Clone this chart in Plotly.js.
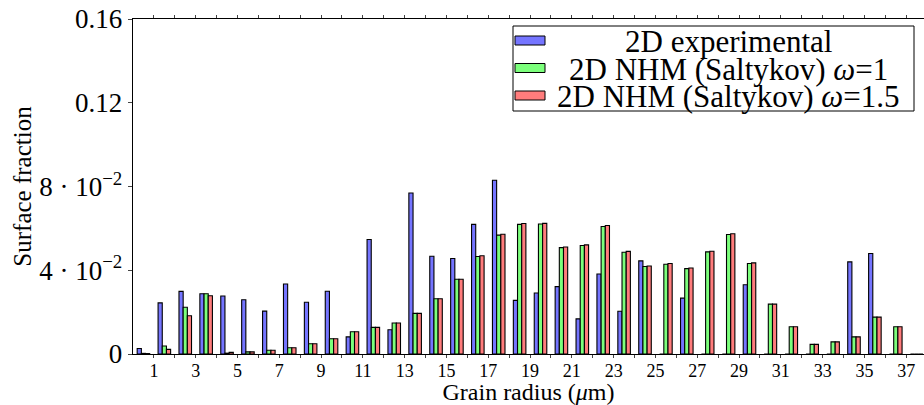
<!DOCTYPE html>
<html>
<head>
<meta charset="utf-8">
<script src="https://cdn.plot.ly/plotly-3.0.1.min.js"></script>
<style>html,body{margin:0;padding:0;background:#fff;}#chart{width:924px;height:405px;}</style>
</head>
<body>
<div id="chart"></div>
<script>
// ---- data ----
const radius = [0,1,2,3,4,5,6,7,8,9,10,11,12,13,14,15,16,17,18,19,20,21,22,23,24,25,26,27,28,29,30,31,32,33,34,35,36,37];
const experimental = [0.0026,0.0244,0.0299,0.0288,0.0277,0.0259,0.0205,0.0334,0.0247,0.0300,0.0082,0.0547,0.0116,0.0769,0.0467,0.0456,0.0619,0.0830,0.0256,0.0291,0.0322,0.0168,0.0382,0.0204,0.0445,0,0.0267,0,0,0.0331,0,0,0,0,0.0440,0.0480,0,0];
const nhmOmega1 = [0.0003,0.0038,0.0223,0.0288,0.0004,0.0010,0.0018,0.0030,0.0049,0.0073,0.0106,0.0127,0.0148,0.0194,0.0264,0.0357,0.0466,0.0568,0.0619,0.0621,0.0508,0.0518,0.0609,0.0486,0.0418,0.0429,0.0408,0.0488,0.0571,0.0432,0.0238,0.0130,0.0046,0.0058,0.0082,0.0176,0.0130,0];
const nhmOmega15 = [0.0002,0.0022,0.0183,0.0278,0.0008,0.0010,0.0018,0.0030,0.0049,0.0073,0.0106,0.0127,0.0148,0.0194,0.0264,0.0357,0.0469,0.0572,0.0623,0.0624,0.0511,0.0521,0.0614,0.0490,0.0420,0.0432,0.0411,0.0491,0.0574,0.0435,0.0238,0.0130,0.0046,0.0058,0.0082,0.0176,0.0130,0];
const seriesNames = ['2D experimental', '2D NHM (Saltykov) <i>ω</i>=1', '2D NHM (Saltykov) <i>ω</i>=1.5'];
const xTickLabels = ['1','3','5','7','9','11','13','15','17','19','21','23','25','27','29','31','33','35','37'];
const yTickValues = [0, 0.04, 0.08, 0.12, 0.16];
const yTickLabels = ['0', '4 · 10<sup>−2</sup>', '8 · 10<sup>−2</sup>', '0.12', '0.16'];

// ---- styles ----
const colors = ['#7575ff', '#7cff7c', '#ff7c7c'];
const FONT = 'Liberation Serif, Times New Roman, serif';
const W = 924, H = 405;
const M = {l: 133, r: 0, t: 19, b: 51};
const pw = W - M.l - M.r, ph = H - M.t - M.b;
const px2x = p => (p - M.l) / pw;
const px2y = p => (H - M.b - p) / ph;

const seriesData = [experimental, nhmOmega1, nhmOmega15];
const traces = seriesData.map((vals, i) => ({
  type: 'bar',
  x: radius,
  y: vals,
  name: seriesNames[i],
  width: 0.2,
  offset: 0.2 + 0.2 * i,
  marker: {color: colors[i], line: {color: '#000', width: 1.1}},
  showlegend: false,
  hoverinfo: 'skip'
}));

const xTickVals = radius.slice(1);
const xTickText = xTickVals.map(v => xTickLabels.includes(String(v)) ? String(v) : ' ');

// manual legend (box, swatches, centered text)
const shapes = [{
  type: 'rect', xref: 'paper', yref: 'paper',
  x0: px2x(513), x1: px2x(914), y0: px2y(111), y1: px2y(26),
  line: {color: '#000', width: 1}, fillcolor: 'rgba(255,255,255,1)', layer: 'above'
}];
const rowY = [40.5, 68, 95.5];
const annotations = [];
rowY.forEach((ry, i) => {
  shapes.push({
    type: 'rect', xref: 'paper', yref: 'paper',
    x0: px2x(515), x1: px2x(545), y0: px2y(ry + 4.5), y1: px2y(ry - 4.5),
    line: {color: '#000', width: 1}, fillcolor: colors[i], layer: 'above'
  });
  annotations.push({
    xref: 'paper', yref: 'paper', x: px2x(728), y: px2y(ry + 1),
    xanchor: 'center', yanchor: 'middle', showarrow: false,
    text: seriesNames[i], font: {family: FONT, size: 31, color: '#000'}
  });
});

const layout = {
  width: W, height: H,
  margin: M,
  paper_bgcolor: '#fff', plot_bgcolor: '#fff',
  barmode: 'overlay',
  font: {family: FONT, color: '#000'},
  xaxis: {
    range: [0, 37.85],
    tickmode: 'array', tickvals: xTickVals, ticktext: xTickText,
    ticks: 'outside', ticklen: 3, tickwidth: 1, tickcolor: '#444',
    ticklabelstandoff: -3,
    showline: true, linecolor: '#000', linewidth: 1.3, mirror: 'ticks',
    showgrid: false, zeroline: false,
    tickfont: {family: FONT, size: 18, color: '#000'},
    title: {text: 'Grain radius (<i>μ</i>m)', font: {family: FONT, size: 24, color: '#000'}, standoff: 0},
    automargin: false
  },
  yaxis: {
    range: [0, 0.16],
    tickmode: 'array', tickvals: yTickValues, ticktext: yTickLabels,
    ticks: 'outside', ticklen: 4, tickwidth: 1, tickcolor: '#444',
    showline: true, linecolor: '#000', linewidth: 1.3, mirror: false,
    showgrid: false, zeroline: false,
    tickfont: {family: FONT, size: 27, color: '#000'},
    title: {text: 'Surface fraction', font: {family: FONT, size: 25, color: '#000'}, standoff: 0},
    automargin: false
  },
  shapes: shapes,
  annotations: annotations
};

Plotly.newPlot('chart', traces, layout, {staticPlot: true, displayModeBar: false});
</script>
</body>
</html>
